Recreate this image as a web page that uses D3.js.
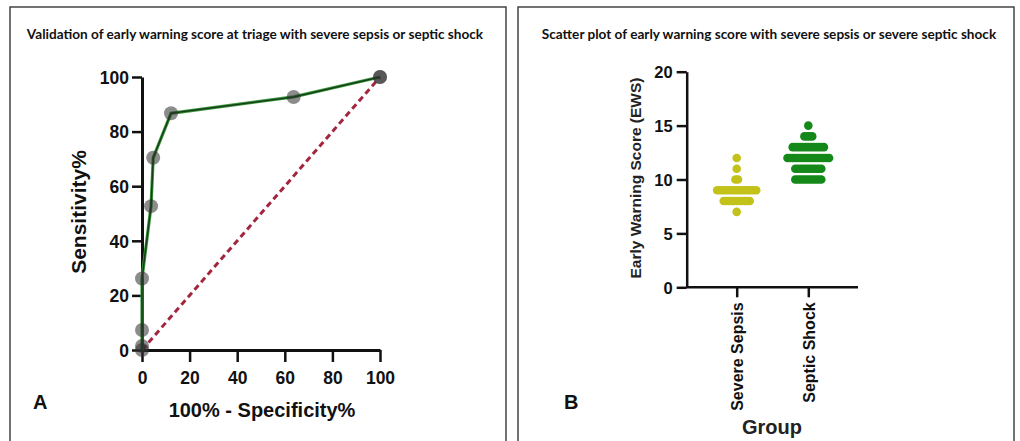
<!DOCTYPE html>
<html>
<head>
<meta charset="utf-8">
<script src="https://cdn.jsdelivr.net/npm/d3@7"></script>
<style>
  body { margin: 0; background: #fff; }
  svg { display: block; }
  .tick text { font-family: "Liberation Sans", Arial, sans-serif; font-weight: bold; fill: #111; }
</style>
</head>
<body>
<script>
// ROC curve points (1 - specificity %, sensitivity %)
var rocFpr = [0, 0, 0, 0, 3.8, 4.7, 12.2, 63.7, 100, 100];
var rocTpr = [0, 1.5, 7.3, 26.2, 52.7, 70.4, 86.7, 92.7, 100, 100];
var rocTicks = [0, 20, 40, 60, 80, 100];

// scatter plot: score levels and number of patients at each level
var groups = ['Severe Sepsis', 'Septic Shock'];
var sepsisScores = [7, 8, 9, 10, 11, 12];
var sepsisCounts = [1, 11, 16, 2, 1, 1];
var shockScores = [10, 11, 12, 13, 14, 15];
var shockCounts = [11, 11, 17, 13, 4, 1];
var ewsTicks = [0, 5, 10, 15, 20];

var titleA = 'Validation of early warning score at triage with severe sepsis or septic shock',
    titleB = 'Scatter plot of early warning score with severe sepsis or severe septic shock';

var W = 1020, H = 441;
var svg = d3.select('body').append('svg')
  .attr('width', W)
  .attr('height', H);

var arial = '"Liberation Sans", Arial, sans-serif',
    calibri = 'Lato, "Open Sans", sans-serif';

// panel frames
svg.append('rect')
  .attr('x', 10).attr('y', 7)
  .attr('width', 496).attr('height', 450)
  .attr('fill', 'none').attr('stroke', '#444').attr('stroke-width', 1.5);
svg.append('rect')
  .attr('x', 518).attr('y', 7)
  .attr('width', 496).attr('height', 450)
  .attr('fill', 'none').attr('stroke', '#444').attr('stroke-width', 1.5);

// titles
svg.append('text')
  .attr('x', 255).attr('y', 39)
  .attr('text-anchor', 'middle')
  .style('font-family', calibri).style('font-weight', 'bold').style('font-size', '13.6px')
  .attr('fill', '#111')
  .text(titleA);
svg.append('text')
  .attr('x', 769).attr('y', 39)
  .attr('text-anchor', 'middle')
  .style('font-family', calibri).style('font-weight', 'bold').style('font-size', '13.6px')
  .attr('fill', '#111')
  .text(titleB);

// ---------- panel A: ROC ----------
var x = d3.scaleLinear().domain([0, 100]).range([142, 380]);
var y = d3.scaleLinear().domain([0, 100]).range([350, 77]);

var gA = svg.append('g');

var xAxis = gA.append('g')
  .attr('transform', 'translate(0,' + y(0) + ')')
  .call(d3.axisBottom(x).tickValues(rocTicks).tickSize(12).tickPadding(6).tickSizeOuter(0));
var yAxis = gA.append('g')
  .attr('transform', 'translate(' + x(0) + ',0)')
  .call(d3.axisLeft(y).tickValues(rocTicks).tickSize(10).tickPadding(3).tickSizeOuter(0));

[xAxis, yAxis].forEach(function(a) {
  a.select('.domain').attr('stroke', '#111').attr('stroke-width', 3);
  a.selectAll('.tick line').attr('stroke', '#111').attr('stroke-width', 2.5);
  a.selectAll('.tick text').style('font-size', '17.5px');
});
xAxis.selectAll('.tick text').attr('dy', '0.9em');
yAxis.selectAll('.tick text').attr('dy', '0.36em');

// reference diagonal
gA.append('line')
  .attr('x1', x(0)).attr('y1', y(0))
  .attr('x2', x(100)).attr('y2', y(100))
  .attr('stroke', '#a3263f')
  .attr('stroke-width', 3)
  .attr('stroke-dasharray', '6,4');

var rocData = rocFpr.map(function(d, i) { return {fpr: d, tpr: rocTpr[i]}; });

var line = d3.line()
  .x(function(d) { return x(d.fpr); })
  .y(function(d) { return y(d.tpr); });

gA.append('path')
  .attr('d', line(rocData))
  .attr('fill', 'none')
  .attr('stroke', '#3f9a3f')
  .attr('stroke-width', 3.2);
gA.append('path')
  .attr('d', line(rocData))
  .attr('fill', 'none')
  .attr('stroke', '#14401a')
  .attr('stroke-width', 1.6);

gA.selectAll('circle.roc')
  .data(rocData)
  .enter().append('circle')
  .attr('class', 'roc')
  .attr('cx', function(d) { return x(d.fpr); })
  .attr('cy', function(d) { return y(d.tpr); })
  .attr('r', 7)
  .attr('fill', '#2e2e2e')
  .attr('fill-opacity', 0.55);

gA.append('text')
  .attr('transform', 'translate(86,212) rotate(-90)')
  .attr('text-anchor', 'middle')
  .style('font-family', arial).style('font-weight', 'bold').style('font-size', '21px')
  .attr('fill', '#111')
  .text('Sensitivity%');
gA.append('text')
  .attr('x', 262).attr('y', 417)
  .attr('text-anchor', 'middle')
  .style('font-family', arial).style('font-weight', 'bold').style('font-size', '20px')
  .attr('fill', '#111')
  .text('100% - Specificity%');
gA.append('text')
  .attr('x', 33).attr('y', 409)
  .style('font-family', arial).style('font-weight', 'bold').style('font-size', '20px')
  .attr('fill', '#111')
  .text('A');

// ---------- panel B: scatter ----------
var xb = d3.scalePoint().domain(groups).range([736.7, 808.3]);
var yb = d3.scaleLinear().domain([0, 20]).range([287.3, 71.7]);

var gB = svg.append('g');

var xbAxis = gB.append('g')
  .attr('transform', 'translate(0,' + yb(0) + ')')
  .call(d3.axisBottom(xb).tickSize(10).tickPadding(4).tickSizeOuter(0));
var ybAxis = gB.append('g')
  .attr('transform', 'translate(686.7,0)')
  .call(d3.axisLeft(yb).tickValues(ewsTicks).tickSize(10).tickPadding(4).tickSizeOuter(0));

// x axis line spans past the groups
xbAxis.select('.domain').remove();
gB.append('line')
  .attr('x1', 686.7).attr('x2', 858)
  .attr('y1', yb(0)).attr('y2', yb(0))
  .attr('stroke', '#111').attr('stroke-width', 2.5);

[xbAxis, ybAxis].forEach(function(a) {
  a.select('.domain').attr('stroke', '#111').attr('stroke-width', 2.5);
  a.selectAll('.tick line').attr('stroke', '#111').attr('stroke-width', 2.5);
});
ybAxis.selectAll('.tick text').style('font-size', '16.5px').attr('dy', '0.36em');
xbAxis.selectAll('.tick text')
  .style('font-size', '16px')
  .attr('transform', 'rotate(-90)')
  .attr('text-anchor', 'end')
  .attr('x', -15).attr('y', 0).attr('dy', '0.36em');

function rows(scores, counts, group) {
  var pts = [];
  var spacing = 2.6;
  scores.forEach(function(s, i) {
    var n = counts[i];
    for (var k = 0; k < n; k++) {
      pts.push({group: group, score: s, off: (k - (n - 1) / 2) * spacing});
    }
  });
  return pts;
}

var dotColor = {'Severe Sepsis': '#c2c21a', 'Septic Shock': '#15881a'};
var dots = rows(sepsisScores, sepsisCounts, groups[0])
  .concat(rows(shockScores, shockCounts, groups[1]));

gB.selectAll('circle.ews')
  .data(dots)
  .enter().append('circle')
  .attr('class', 'ews')
  .attr('cx', function(d) { return xb(d.group) + d.off; })
  .attr('cy', function(d) { return yb(d.score); })
  .attr('r', 4.3)
  .attr('fill', function(d) { return dotColor[d.group]; });

gB.append('text')
  .attr('transform', 'translate(641,178) rotate(-90)')
  .attr('text-anchor', 'middle')
  .style('font-family', arial).style('font-weight', 'bold').style('font-size', '15.5px')
  .attr('fill', '#222')
  .text('Early Warning Score (EWS)');
gB.append('text')
  .attr('x', 772).attr('y', 434)
  .attr('text-anchor', 'middle')
  .style('font-family', arial).style('font-weight', 'bold').style('font-size', '20px')
  .attr('fill', '#222')
  .text('Group');
gB.append('text')
  .attr('x', 564).attr('y', 409)
  .style('font-family', arial).style('font-weight', 'bold').style('font-size', '20px')
  .attr('fill', '#111')
  .text('B');
</script>
</body>
</html>
